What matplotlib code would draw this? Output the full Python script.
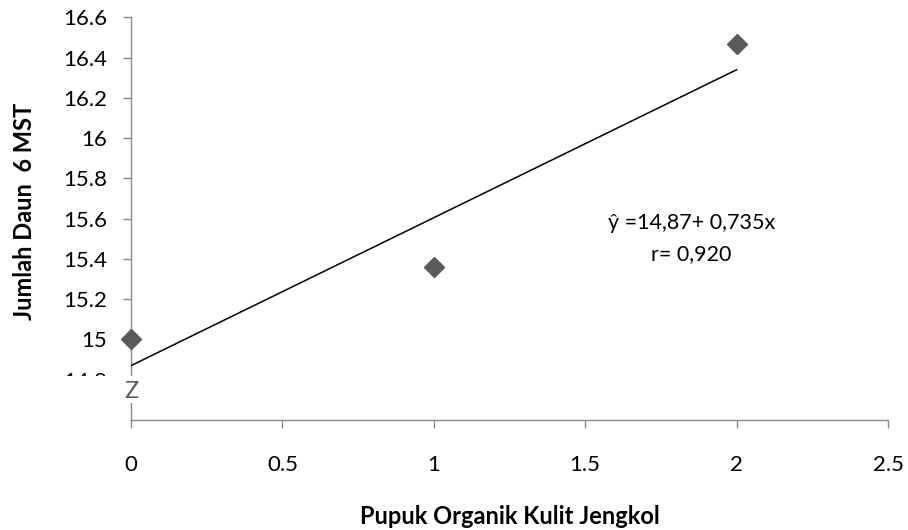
import matplotlib
matplotlib.use("Agg")
import matplotlib.pyplot as plt
from matplotlib.patches import Rectangle

# data
dosis = [0, 1, 2]
jumlah_daun = [15.0, 15.36, 16.47]
intercept, slope = 14.87, 0.735
x_ticks = [0, 0.5, 1, 1.5, 2, 2.5]
x_tick_labels = ["0", "0.5", "1", "1.5", "2", "2.5"]
y_ticks = [14.8, 15.0, 15.2, 15.4, 15.6, 15.8, 16.0, 16.2, 16.4, 16.6]
y_tick_labels = ["14.8", "15", "15.2", "15.4", "15.6", "15.8", "16", "16.2", "16.4", "16.6"]

plt.rcParams['font.family'] = ['Lato', 'DejaVu Sans']
axis_grey = "#898989"

fig = plt.figure(figsize=(9.08, 5.30), dpi=100)
ax = fig.add_axes([131 / 908, 1 - 420 / 530, 757 / 908, 402.6 / 530])

ax.plot(dosis, jumlah_daun, linestyle="none", marker="D", markersize=10,
        color="#5a5a5a", zorder=4, clip_on=False)

fit_x = [dosis[0], dosis[-1]]
fit_y = [intercept + slope * v for v in fit_x]
ax.plot(fit_x, fit_y, color="black", linewidth=1.1, zorder=3)

ax.set_xlim(0, 2.5)
ax.set_ylim(14.6, 16.6)
ax.set_xticks(x_ticks)
ax.set_xticklabels(x_tick_labels)
ax.set_yticks(y_ticks)
ax.set_yticklabels(y_tick_labels)

for side in ["top", "right"]:
    ax.spines[side].set_visible(False)
for side in ["left", "bottom"]:
    ax.spines[side].set_color(axis_grey)
    ax.spines[side].set_linewidth(1.0)

ax.tick_params(axis="x", direction="out", length=6, width=1.0, color=axis_grey,
               labelsize=16, pad=19)
ax.tick_params(axis="y", direction="out", length=6, width=1.0, color=axis_grey,
               labelsize=16, pad=11)

# axis break: hide the lower part of the axis and the 14.8 label, draw the mark
ax.add_patch(Rectangle((-0.09, 0.042), 0.11, 0.067, transform=ax.transAxes,
                       facecolor="white", edgecolor="none", zorder=5, clip_on=False))
ax.text(0, 0.072, "Z", transform=ax.transAxes, ha="center", va="center",
        fontsize=17, color="#5e5e5e", zorder=6, clip_on=False)

ax.text(1.85, 15.50, "\u0177 =14,87+ 0,735x\nr= 0,920", ha="center", va="center",
        fontsize=15.5, linespacing=1.7)

fig.text(510 / 908, 1 - 517 / 530, "Pupuk Organik Kulit Jengkol", ha="center",
         va="center", fontsize=17, fontweight="bold")
fig.text(25 / 908, 1 - 211 / 530, "Jumlah Daun  6 MST", ha="center", va="center",
         rotation=90, fontsize=17, fontweight="bold")

fig.savefig("out.png", dpi=100, facecolor="white")
